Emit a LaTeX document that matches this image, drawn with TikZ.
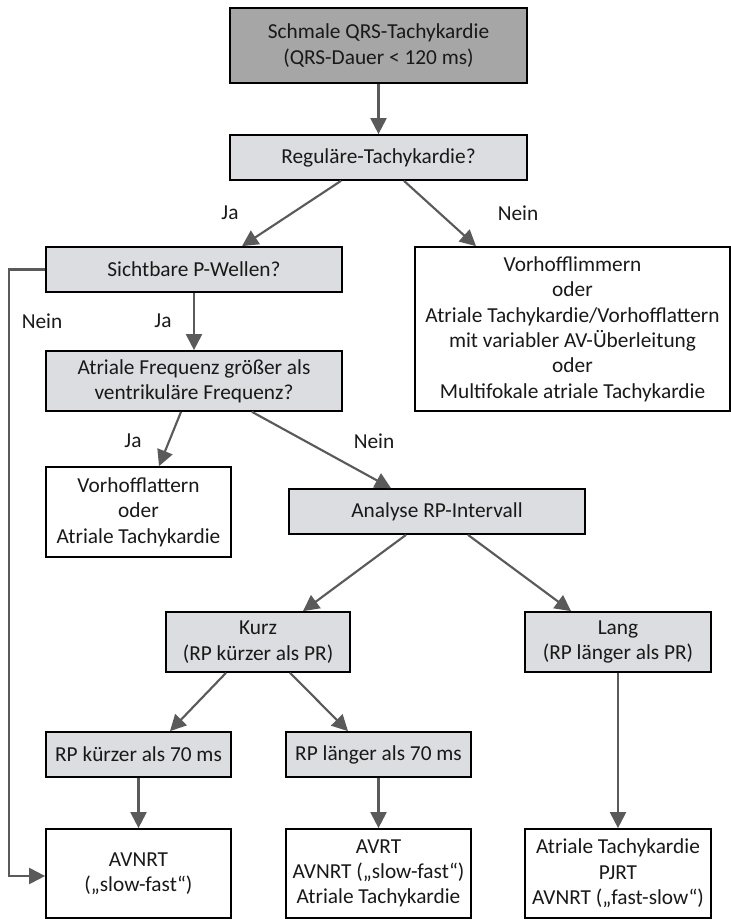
\documentclass[tikz,border=0pt]{standalone}
\usepackage{fontspec}
\setmainfont{Carlito}
\usetikzlibrary{arrows.meta}
\definecolor{darkfill}{RGB}{166,166,166}
\definecolor{lightfill}{RGB}{220,221,224}
\definecolor{arrowgray}{RGB}{90,90,90}
\definecolor{textgray}{RGB}{25,25,25}
\tikzset{
  box/.style={draw=black, line width=1.3pt, rectangle, inner sep=0pt, align=center,
    text=textgray, font=\fontsize{16pt}{19pt}\selectfont},
  darkbox/.style={box, fill=darkfill},
  lightbox/.style={box, fill=lightfill},
  whitebox/.style={box, fill=white},
  arr/.style={draw=arrowgray, line width=1.6pt, -{Triangle[length=12pt,width=12pt]}},
  lbl/.style={text=textgray, font=\fontsize{16pt}{19pt}\selectfont, inner sep=0pt}
}
\begin{document}
\begin{tikzpicture}[x=0.75pt,y=-0.75pt]
\useasboundingbox (0,0) rectangle (731,921);

\node[darkbox, minimum width=222.75pt, minimum height=56.25pt] (top) at (378.5,45.5) {Schmale QRS-Tachykardie\\(QRS-Dauer < 120 ms)};
\node[lightbox, minimum width=222.75pt, minimum height=33.75pt] (reg) at (378.5,157.5) {Reguläre-Tachykardie?};
\node[lightbox, minimum width=222pt, minimum height=33.75pt] (sicht) at (194,269.5) {Sichtbare P-Wellen?};
\node[whitebox, minimum width=236.25pt, minimum height=123pt] (vhf) at (572.5,329) {Vorhofflimmern\\oder\\Atriale Tachykardie/Vorhofflattern\\mit variabler AV-Überleitung\\oder\\Multifokale atriale Tachykardie};
\node[lightbox, minimum width=222pt, minimum height=45pt] (atrf) at (194,381) {Atriale Frequenz größer als\\ventrikuläre Frequenz?};
\node[whitebox, minimum width=138.75pt, minimum height=67.5pt] (vfl) at (138.5,512) {Vorhofflattern\\oder\\Atriale Tachykardie};
\node[lightbox, minimum width=222pt, minimum height=33.75pt] (ana) at (437,511.5) {Analyse RP-Intervall};
\node[lightbox, minimum width=138pt, minimum height=45pt] (kurz) at (258,642) {Kurz\\(RP kürzer als PR)};
\node[lightbox, minimum width=139.5pt, minimum height=45pt] (lang) at (618,642) {Lang\\(RP länger als PR)};
\node[lightbox, minimum width=138.75pt, minimum height=33.75pt] (rpk) at (138.5,754.5) {RP kürzer als 70 ms};
\node[lightbox, minimum width=138.75pt, minimum height=33.75pt] (rpl) at (378.5,754.5) {RP länger als 70 ms};
\node[whitebox, minimum width=138.75pt, minimum height=66.75pt] (b1) at (138.5,873.5) {AVNRT\\(„slow-fast“)};
\node[whitebox, minimum width=138.75pt, minimum height=66.75pt] (b2) at (378.5,873.5) {AVRT\\AVNRT („slow-fast“)\\Atriale Tachykardie};
\node[whitebox, minimum width=139.5pt, minimum height=66.75pt] (b3) at (618,873.5) {Atriale Tachykardie\\PJRT\\AVNRT („fast-slow“)};

\node[lbl] (l1) at (230,213) {Ja};
\node[lbl] (l2) at (518,213) {Nein};
\node[lbl] (l3) at (42,321) {Nein};
\node[lbl] (l4) at (163,321) {Ja};
\node[lbl] (l5) at (133,441) {Ja};
\node[lbl] (l6) at (374,441) {Nein};

\coordinate (c1) at (9,269.5);
\coordinate (c2) at (9,876);

\draw[arr] (top.south) -- (reg.north);
\draw[arr] ([xshift=-28.125pt]reg.south) -- ([xshift=36pt]sicht.north);
\draw[arr] ([xshift=19.125pt]reg.south) -- ([xshift=-72.375pt]vhf.north);
\draw[arr] (sicht.south) -- (atrf.north);
\draw[arr] (sicht.west) -- (c1) -- (c2) -- (c2 -| b1.west);
\draw[arr] ([xshift=-9.75pt]atrf.south) -- ([xshift=15.375pt]vfl.north);
\draw[arr] ([xshift=43.5pt]atrf.south) -- ([xshift=-34.5pt]ana.north);
\draw[arr] ([xshift=-23.25pt]ana.south) -- ([xshift=33.75pt]kurz.north);
\draw[arr] ([xshift=23.25pt]ana.south) -- ([xshift=-35.25pt]lang.north);
\draw[arr] ([xshift=-24pt]kurz.south) -- ([xshift=23.625pt]rpk.north);
\draw[arr] ([xshift=24pt]kurz.south) -- ([xshift=-22.875pt]rpl.north);
\draw[arr] (rpk.south) -- (b1.north);
\draw[arr] (rpl.south) -- (b2.north);
\draw[arr] (lang.south) -- (b3.north);
\end{tikzpicture}
\end{document}
